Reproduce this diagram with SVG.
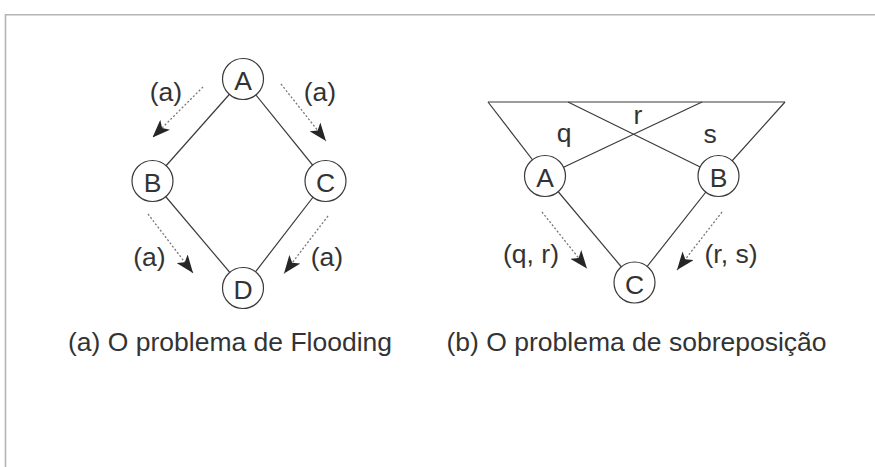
<svg xmlns="http://www.w3.org/2000/svg" width="875" height="467" viewBox="0 0 875 467">
<style>
  .frame{fill:none;stroke:#b4b4b4;stroke-width:1.6}
  .edge{fill:none;stroke:#3a3a3a;stroke-width:1.2}
  .flow{fill:none;stroke:#777;stroke-width:1.3;stroke-dasharray:2 2}
  .node circle{fill:#fff;stroke:#3a3a3a;stroke-width:1.2}
  text{font-family:"Liberation Sans",Arial,sans-serif;font-size:26.5px;fill:#333}
  .lbl{text-anchor:middle}
</style>
<defs>
  <marker id="ah" markerUnits="userSpaceOnUse" viewBox="0 0 18 14" markerWidth="18" markerHeight="14" refX="18" refY="7" orient="auto">
    <path d="M0,0 L18,7 L0,14 L4.5,7 Z" fill="#262626" stroke="none"/>
  </marker>
</defs>
<rect width="875" height="467" fill="#fff"/>
<path class="frame" d="M5.5,467 L5.5,14.8 L875,14.8"/>

<g id="connectors">
  <!-- panel a -->
  <line class="edge" x1="243" y1="79" x2="152.5" y2="181"/>
  <line class="edge" x1="243" y1="79" x2="325.5" y2="181"/>
  <line class="edge" x1="152.5" y1="181" x2="243" y2="288"/>
  <line class="edge" x1="325.5" y1="181" x2="243" y2="288"/>
  <line class="flow" x1="203" y1="87" x2="152.5" y2="137.5" marker-end="url(#ah)"/>
  <line class="flow" x1="281" y1="84" x2="326" y2="141" marker-end="url(#ah)"/>
  <line class="flow" x1="148" y1="214" x2="193" y2="273" marker-end="url(#ah)"/>
  <line class="flow" x1="328" y1="216" x2="284" y2="273.5" marker-end="url(#ah)"/>
  <!-- panel b -->
  <line class="edge" x1="488" y1="102" x2="785" y2="102"/>
  <line class="edge" x1="488" y1="102" x2="545" y2="176"/>
  <line class="edge" x1="785" y1="102" x2="718.5" y2="176"/>
  <line class="edge" x1="568" y1="102" x2="718.5" y2="176"/>
  <line class="edge" x1="702" y1="102" x2="545" y2="176"/>
  <line class="edge" x1="545" y1="176" x2="634.5" y2="282.5"/>
  <line class="edge" x1="718.5" y1="176" x2="634.5" y2="282.5"/>
  <line class="flow" x1="542" y1="212" x2="587" y2="268.5" marker-end="url(#ah)"/>
  <line class="flow" x1="722" y1="212" x2="677" y2="270" marker-end="url(#ah)"/>
</g>

<g id="node-a-A" class="node"><circle cx="243" cy="79" r="20.5"/><text class="lbl" x="243" y="90">A</text></g>
<g id="node-a-B" class="node"><circle cx="152.5" cy="181" r="20.5"/><text class="lbl" x="152.5" y="192">B</text></g>
<g id="node-a-C" class="node"><circle cx="325.5" cy="181" r="20.5"/><text class="lbl" x="325.5" y="192">C</text></g>
<g id="node-a-D" class="node"><circle cx="243" cy="288" r="20.5"/><text class="lbl" x="243" y="299">D</text></g>

<g id="node-b-A" class="node"><circle cx="545" cy="176" r="20.5"/><text class="lbl" x="545" y="187">A</text></g>
<g id="node-b-B" class="node"><circle cx="718.5" cy="176" r="20.5"/><text class="lbl" x="718.5" y="187">B</text></g>
<g id="node-b-C" class="node"><circle cx="634.5" cy="282.5" r="20.5"/><text class="lbl" x="634.5" y="293.5">C</text></g>

<g id="labels">
  <text class="lbl" x="166" y="101">(a)</text>
  <text class="lbl" x="320" y="101">(a)</text>
  <text class="lbl" x="149.5" y="266">(a)</text>
  <text class="lbl" x="327" y="266">(a)</text>
  <text class="lbl" x="564" y="142">q</text>
  <text class="lbl" x="638" y="124">r</text>
  <text class="lbl" x="710" y="143">s</text>
  <text class="lbl" x="531" y="263">(q, r)</text>
  <text class="lbl" x="731" y="263">(r, s)</text>
  <text x="68" y="351">(a) O problema de Flooding</text>
  <text x="446.5" y="351">(b) O problema de sobreposição</text>
</g>
</svg>
